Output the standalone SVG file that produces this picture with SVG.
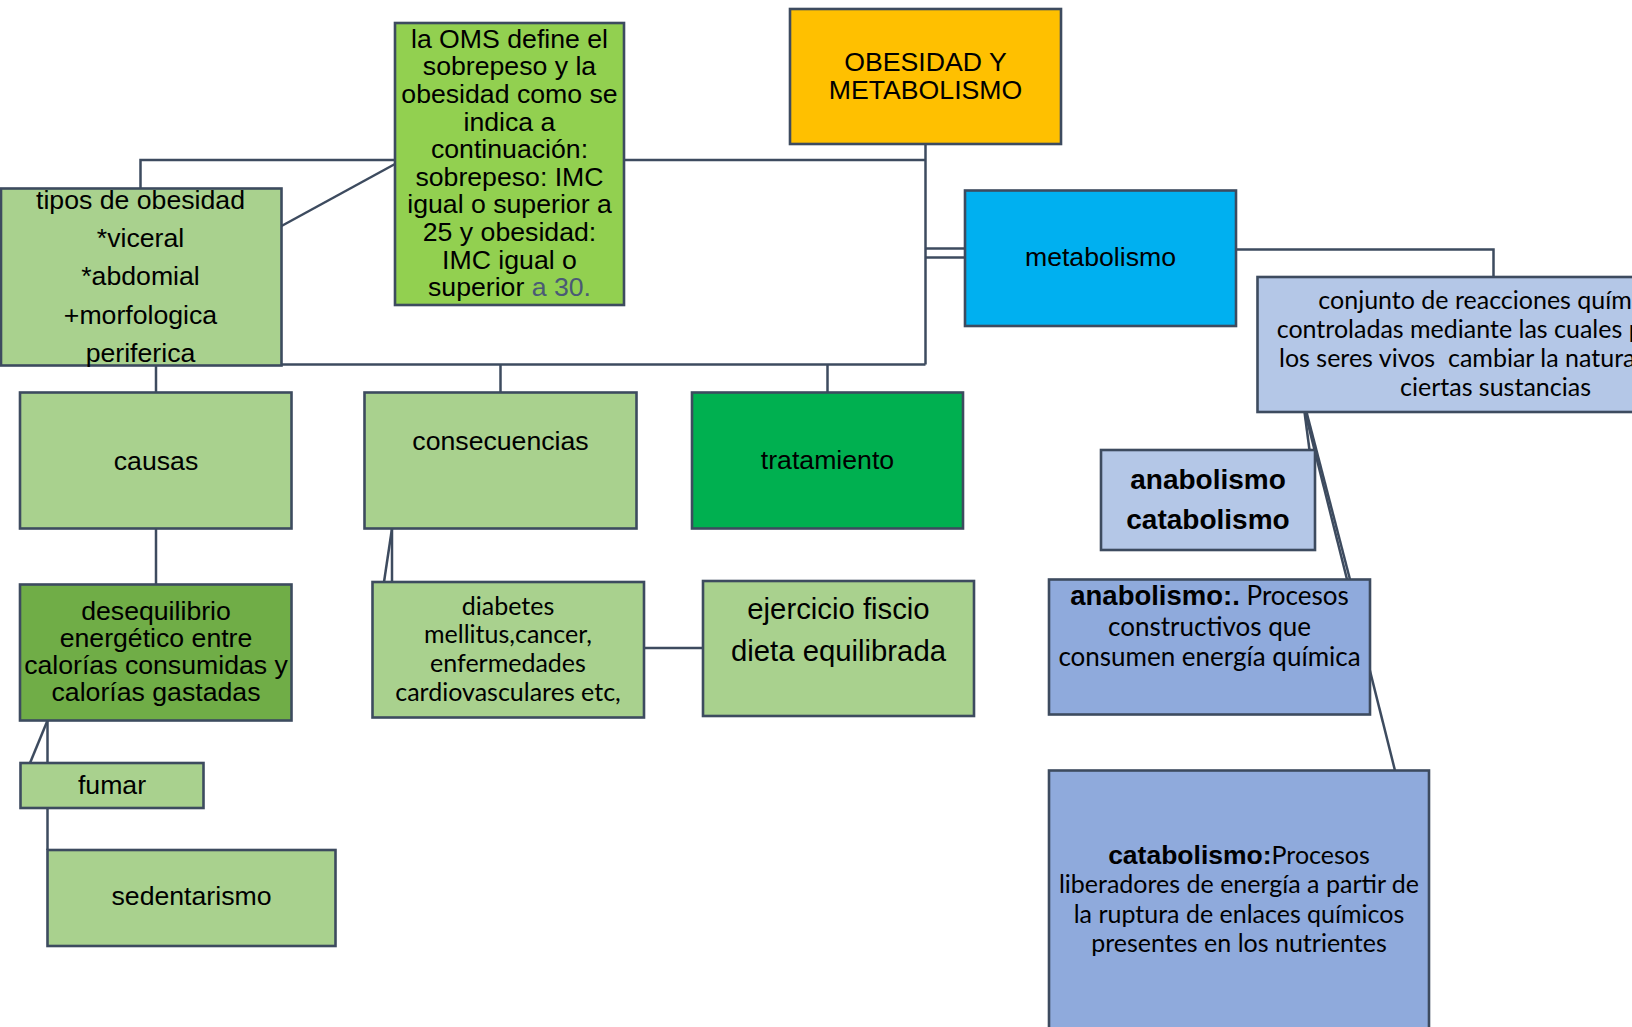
<svg xmlns="http://www.w3.org/2000/svg" width="1632" height="1027" viewBox="0 0 1632 1027">
  <style>
    .box { stroke: #3D4B5F; stroke-width: 2.6; }
    .link { fill: none; stroke: #3D4B5F; stroke-width: 2.5; }
    .lg { fill: #A9D18E; }
    .t { font-family: "Liberation Sans", Arial, sans-serif; font-size: 26.67px; fill: #000; text-anchor: middle; }
    .c { font-family: Lato, "Liberation Sans", sans-serif; fill: #000; }
    .b { font-family: "Liberation Sans", Arial, sans-serif; font-weight: bold; }
  </style>
  <rect width="1632" height="1027" fill="#FFFFFF"/>

  <!-- connectors -->
  <g id="connectors">
    <path class="link" d="M925.5 144 V364.5"/>
    <path class="link" d="M624 160 H925.5"/>
    <path class="link" d="M140.5 188.5 V160 H395"/>
    <path class="link" d="M281.5 226 L395 164"/>
    <path class="link" d="M281.5 364.5 H925.5"/>
    <path class="link" d="M156 365.5 V392.5"/>
    <path class="link" d="M500.5 364.5 V392.5"/>
    <path class="link" d="M827.5 364.5 V392.5"/>
    <path class="link" d="M925.5 248.5 H965"/>
    <path class="link" d="M925.5 257.5 H965"/>
    <path class="link" d="M1236 249.5 H1493.5 V277"/>
    <path class="link" d="M156 528.5 V584.5"/>
    <path class="link" d="M392 528.5 V582"/>
    <path class="link" d="M392 528.5 L384 582"/>
    <path class="link" d="M644 648 H703"/>
    <path class="link" d="M47.5 720.5 V763"/>
    <path class="link" d="M47.5 720.5 L30 763"/>
    <path class="link" d="M47.5 808 V850"/>
    <path class="link" d="M1304.5 412 L1309.5 450"/>
    <path class="link" d="M1306.5 412 L1350 579.5"/>
    <path class="link" d="M1305 412 L1395 770.5"/>
  </g>

  <!-- nodes -->
  <g id="oms">
    <rect class="box" x="395" y="23" width="229" height="282" fill="#92D050"/>
    <text class="t"><tspan x="509.5" y="47.7">la OMS define el</tspan><tspan x="509.5" y="75.3">sobrepeso y la</tspan><tspan x="509.5" y="102.9">obesidad como se</tspan><tspan x="509.5" y="130.5">indica a</tspan><tspan x="509.5" y="158.1">continuación:</tspan><tspan x="509.5" y="185.7">sobrepeso: IMC</tspan><tspan x="509.5" y="213.3">igual o superior a</tspan><tspan x="509.5" y="240.9">25 y obesidad:</tspan><tspan x="509.5" y="268.5">IMC igual o</tspan><tspan x="509.5" y="296.1">superior <tspan fill="#4A5A75">a 30.</tspan></tspan></text>
  </g>

  <g id="titulo">
    <rect class="box" x="790" y="9" width="271" height="135" fill="#FFC000"/>
    <text class="t"><tspan x="925.5" y="70.7">OBESIDAD Y</tspan><tspan x="925.5" y="99">METABOLISMO</tspan></text>
  </g>

  <g id="metabolismo">
    <rect class="box" x="965" y="190.5" width="271" height="135.5" fill="#00B0F0"/>
    <text class="t" x="1100.5" y="265.5">metabolismo</text>
  </g>

  <g id="conjunto">
    <rect class="box" x="1257.5" y="277" width="480" height="135" fill="#B4C7E7"/>
    <text class="c" font-size="25" xml:space="preserve"><tspan x="1318.3" y="309.3">conjunto de reacciones quími</tspan><tspan x="1276.7" y="338.3">controladas mediante las cuales p</tspan><tspan x="1279" y="367.3">los seres vivos  cambiar la natura</tspan><tspan x="1400" y="396.3">ciertas sustancias</tspan></text>
  </g>

  <g id="tipos">
    <rect class="box lg" x="1" y="188.5" width="280.5" height="177"/>
    <text class="t"><tspan x="140.5" y="208.8">tipos de obesidad</tspan><tspan x="140.5" y="247">*viceral</tspan><tspan x="140.5" y="285.2">*abdomial</tspan><tspan x="140.5" y="323.6">+morfologica</tspan><tspan x="140.5" y="362">periferica</tspan></text>
  </g>

  <g id="causas">
    <rect class="box lg" x="20" y="392.5" width="271.5" height="136"/>
    <text class="t" x="156" y="469.5">causas</text>
  </g>

  <g id="consecuencias">
    <rect class="box lg" x="364.5" y="392.5" width="272" height="136"/>
    <text class="t" x="500.5" y="450">consecuencias</text>
  </g>

  <g id="tratamiento">
    <rect class="box" x="692" y="392.5" width="271" height="136" fill="#00B050"/>
    <text class="t" x="827.5" y="469">tratamiento</text>
  </g>

  <g id="anab-catab">
    <rect class="box" x="1101" y="450" width="214" height="100" fill="#B4C7E7"/>
    <text class="t b" style="font-size:28px"><tspan x="1208" y="489">anabolismo</tspan><tspan x="1208" y="528.5">catabolismo</tspan></text>
  </g>

  <g id="desequilibrio">
    <rect class="box" x="20" y="584.5" width="271.5" height="136" fill="#70AD47"/>
    <text class="t"><tspan x="156" y="619.5">desequilibrio</tspan><tspan x="156" y="646.5">energético entre</tspan><tspan x="156" y="673.5">calorías consumidas y</tspan><tspan x="156" y="700.5">calorías gastadas</tspan></text>
  </g>

  <g id="diabetes">
    <rect class="box lg" x="372.5" y="582" width="271.5" height="135.5"/>
    <text class="c" font-size="25" text-anchor="middle"><tspan x="508" y="614.5">diabetes</tspan><tspan x="508" y="643">mellitus,cancer,</tspan><tspan x="508" y="672">enfermedades</tspan><tspan x="508" y="701">cardiovasculares etc,</tspan></text>
  </g>

  <g id="ejercicio">
    <rect class="box lg" x="703" y="581" width="271" height="135"/>
    <text class="t" style="font-size:29.3px"><tspan x="838.5" y="618.5">ejercicio fiscio</tspan><tspan x="838.5" y="660.5">dieta equilibrada</tspan></text>
  </g>

  <g id="anabolismo">
    <rect class="box" x="1049" y="579.5" width="321" height="135" fill="#8FAADC"/>
    <text class="c" font-size="26" text-anchor="middle"><tspan x="1209.5" y="605"><tspan class="b" font-size="27.5">anabolismo:.</tspan> Procesos</tspan><tspan x="1209.5" y="636">constructivos que</tspan><tspan x="1209.5" y="666">consumen energía química</tspan></text>
  </g>

  <g id="catabolismo">
    <rect class="box" x="1049" y="770.5" width="380" height="280" fill="#8FAADC"/>
    <text class="c" font-size="25" text-anchor="middle"><tspan x="1239" y="864"><tspan class="b" font-size="26.5">catabolismo:</tspan>Procesos</tspan><tspan x="1239" y="893.3">liberadores de energía a partir de</tspan><tspan x="1239" y="922.7">la ruptura de enlaces químicos</tspan><tspan x="1239" y="951.7">presentes en los nutrientes</tspan></text>
  </g>

  <g id="fumar">
    <rect class="box lg" x="20.5" y="763" width="183" height="45"/>
    <text class="t" x="112" y="794">fumar</text>
  </g>

  <g id="sedentarismo">
    <rect class="box lg" x="47.5" y="850" width="288" height="96"/>
    <text class="t" x="191.5" y="905">sedentarismo</text>
  </g>
</svg>
